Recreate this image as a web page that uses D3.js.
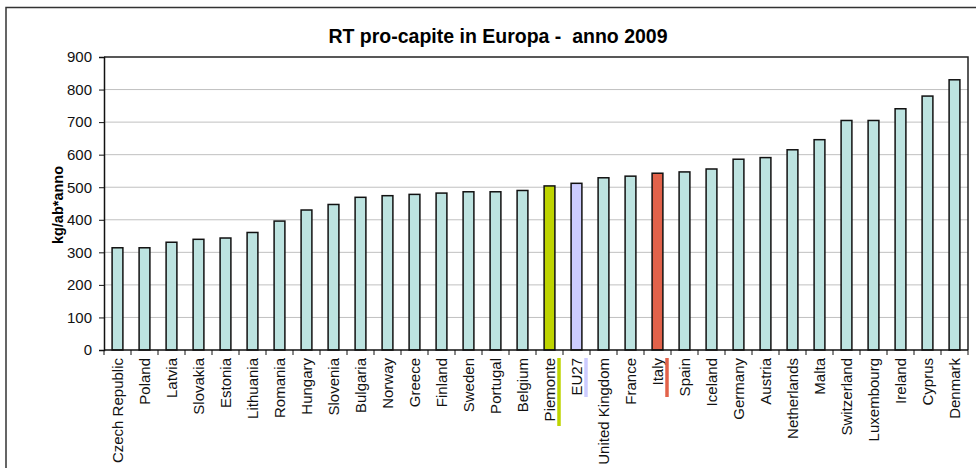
<!DOCTYPE html>
<html>
<head>
<meta charset="utf-8">
<script src="https://cdn.jsdelivr.net/npm/d3@7"></script>
<style>
	body { margin: 0; background: #fff; }
	svg { display: block; font-family: "Liberation Sans", Arial, sans-serif; }
</style>
</head>
<body>
<svg width="976" height="468"></svg>
<script>
// dati: RT pro-capite (kg/ab*anno), anno 2009
const countries = ["Czech Republic", "Poland", "Latvia", "Slovakia", "Estonia", "Lithuania", "Romania",
	"Hungary", "Slovenia", "Bulgaria", "Norway", "Greece", "Finland", "Sweden", "Portugal", "Belgium",
	"Piemonte", "EU27", "United Kingdom", "France", "Italy", "Spain", "Iceland", "Germany", "Austria",
	"Netherlands", "Malta", "Switzerland", "Luxembourg", "Ireland", "Cyprus", "Denmark"];
const values = [314, 314, 331, 340, 344, 361, 396, 430, 447, 469, 474, 478, 482, 486, 486, 490,
	504, 512, 529, 534, 543, 547, 556, 586, 591, 615, 646, 705, 705, 741, 780, 830];
const yTicks = [0, 100, 200, 300, 400, 500, 600, 700, 800, 900];
const highlighted = ["Piemonte", "EU27", "Italy"];

const colors = { "Piemonte": "#bed400", "EU27": "#ccccff", "Italy": "#e2624a" };
const barColor = "#bde3e0";
const markLen = { "Piemonte": 68, "EU27": 39, "Italy": 39 };

let svg = d3.select("svg"),
	pLeft = 104, pRight = 968, pTop = 57, pBottom = 350;

let data = countries.map((c, i) => ({ name: c, value: values[i] }));

let x = d3.scaleBand()
	.domain(countries)
	.range([pLeft, pRight])
	.paddingInner(0.6)
	.paddingOuter(0.3);

let y = d3.scaleLinear()
	.domain([0, 900])
	.range([pBottom, pTop]);

// cornice esterna
svg.append("rect")
	.attr("x", 6).attr("y", 7.5)
	.attr("width", 990).attr("height", 480)
	.attr("fill", "none")
	.attr("stroke", "#333")
	.attr("stroke-width", 1.5);

// titolo
svg.append("text")
	.attr("x", 498).attr("y", 43)
	.attr("text-anchor", "middle")
	.style("font-size", "19.5px")
	.style("font-weight", "bold")
	.style("white-space", "pre")
	.text("RT pro-capite in Europa -  anno 2009");

// griglia
svg.append("g")
	.selectAll("line")
	.data(yTicks.filter(d => d > 0 && d < 900))
	.enter().append("line")
	.attr("x1", pLeft).attr("x2", pRight)
	.attr("y1", d => y(d)).attr("y2", d => y(d))
	.attr("stroke", "#c0c0c0")
	.attr("stroke-width", 1);

// bordo area grafico (alto e destra)
svg.append("path")
	.attr("d", `M${pLeft},${pTop}H${pRight}V${pBottom}`)
	.attr("fill", "none")
	.attr("stroke", "#222")
	.attr("stroke-width", 1.5);

// barre
svg.append("g")
	.selectAll("rect")
	.data(data)
	.enter().append("rect")
	.attr("x", d => x(d.name))
	.attr("y", d => y(d.value))
	.attr("width", x.bandwidth())
	.attr("height", d => y(0) - y(d.value))
	.attr("fill", d => colors[d.name] || barColor)
	.attr("stroke", "#111")
	.attr("stroke-width", 1.5);

// asse y
let yAxis = svg.append("g")
	.attr("transform", `translate(${pLeft},0)`)
	.call(d3.axisLeft(y).tickValues(yTicks).tickSize(5).tickPadding(7));
yAxis.select(".domain").attr("stroke", "#111").attr("stroke-width", 1.5);
yAxis.selectAll(".tick line").attr("stroke", "#111");
yAxis.selectAll("text")
	.attr("fill", "#111")
	.style("font-size", "15px")
	.style("font-family", "Liberation Sans, Arial, sans-serif");

// asse x
let step = x.step();
let xAxis = svg.append("g")
	.attr("transform", `translate(0,${pBottom})`);
xAxis.append("line")
	.attr("x1", pLeft).attr("x2", pRight)
	.attr("stroke", "#111").attr("stroke-width", 1.5);
xAxis.selectAll(".tk")
	.data(d3.range(countries.length + 1))
	.enter().append("line")
	.attr("class", "tk")
	.attr("x1", i => pLeft + i * step).attr("x2", i => pLeft + i * step)
	.attr("y1", 0).attr("y2", 5)
	.attr("stroke", "#111");

xAxis.selectAll("text")
	.data(countries)
	.enter().append("text")
	.attr("transform", d => `translate(${x(d) + x.bandwidth() / 2 + 5.5},8) rotate(-90)`)
	.attr("text-anchor", "end")
	.style("font-size", "15px")
	.attr("fill", "#111")
	.text(d => d);

// segni colorati accanto alle etichette
xAxis.selectAll(".mark")
	.data(highlighted)
	.enter().append("line")
	.attr("class", "mark")
	.attr("x1", d => x(d) + x.bandwidth() / 2 + 9.5)
	.attr("x2", d => x(d) + x.bandwidth() / 2 + 9.5)
	.attr("y1", 8).attr("y2", d => 8 + markLen[d])
	.attr("stroke", d => colors[d])
	.attr("stroke-width", 3.5);

// titolo asse y
svg.append("text")
	.attr("transform", "translate(63,205) rotate(-90)")
	.attr("text-anchor", "middle")
	.style("font-size", "14.5px")
	.style("font-weight", "bold")
	.text("kg/ab*anno");
</script>
</body>
</html>
